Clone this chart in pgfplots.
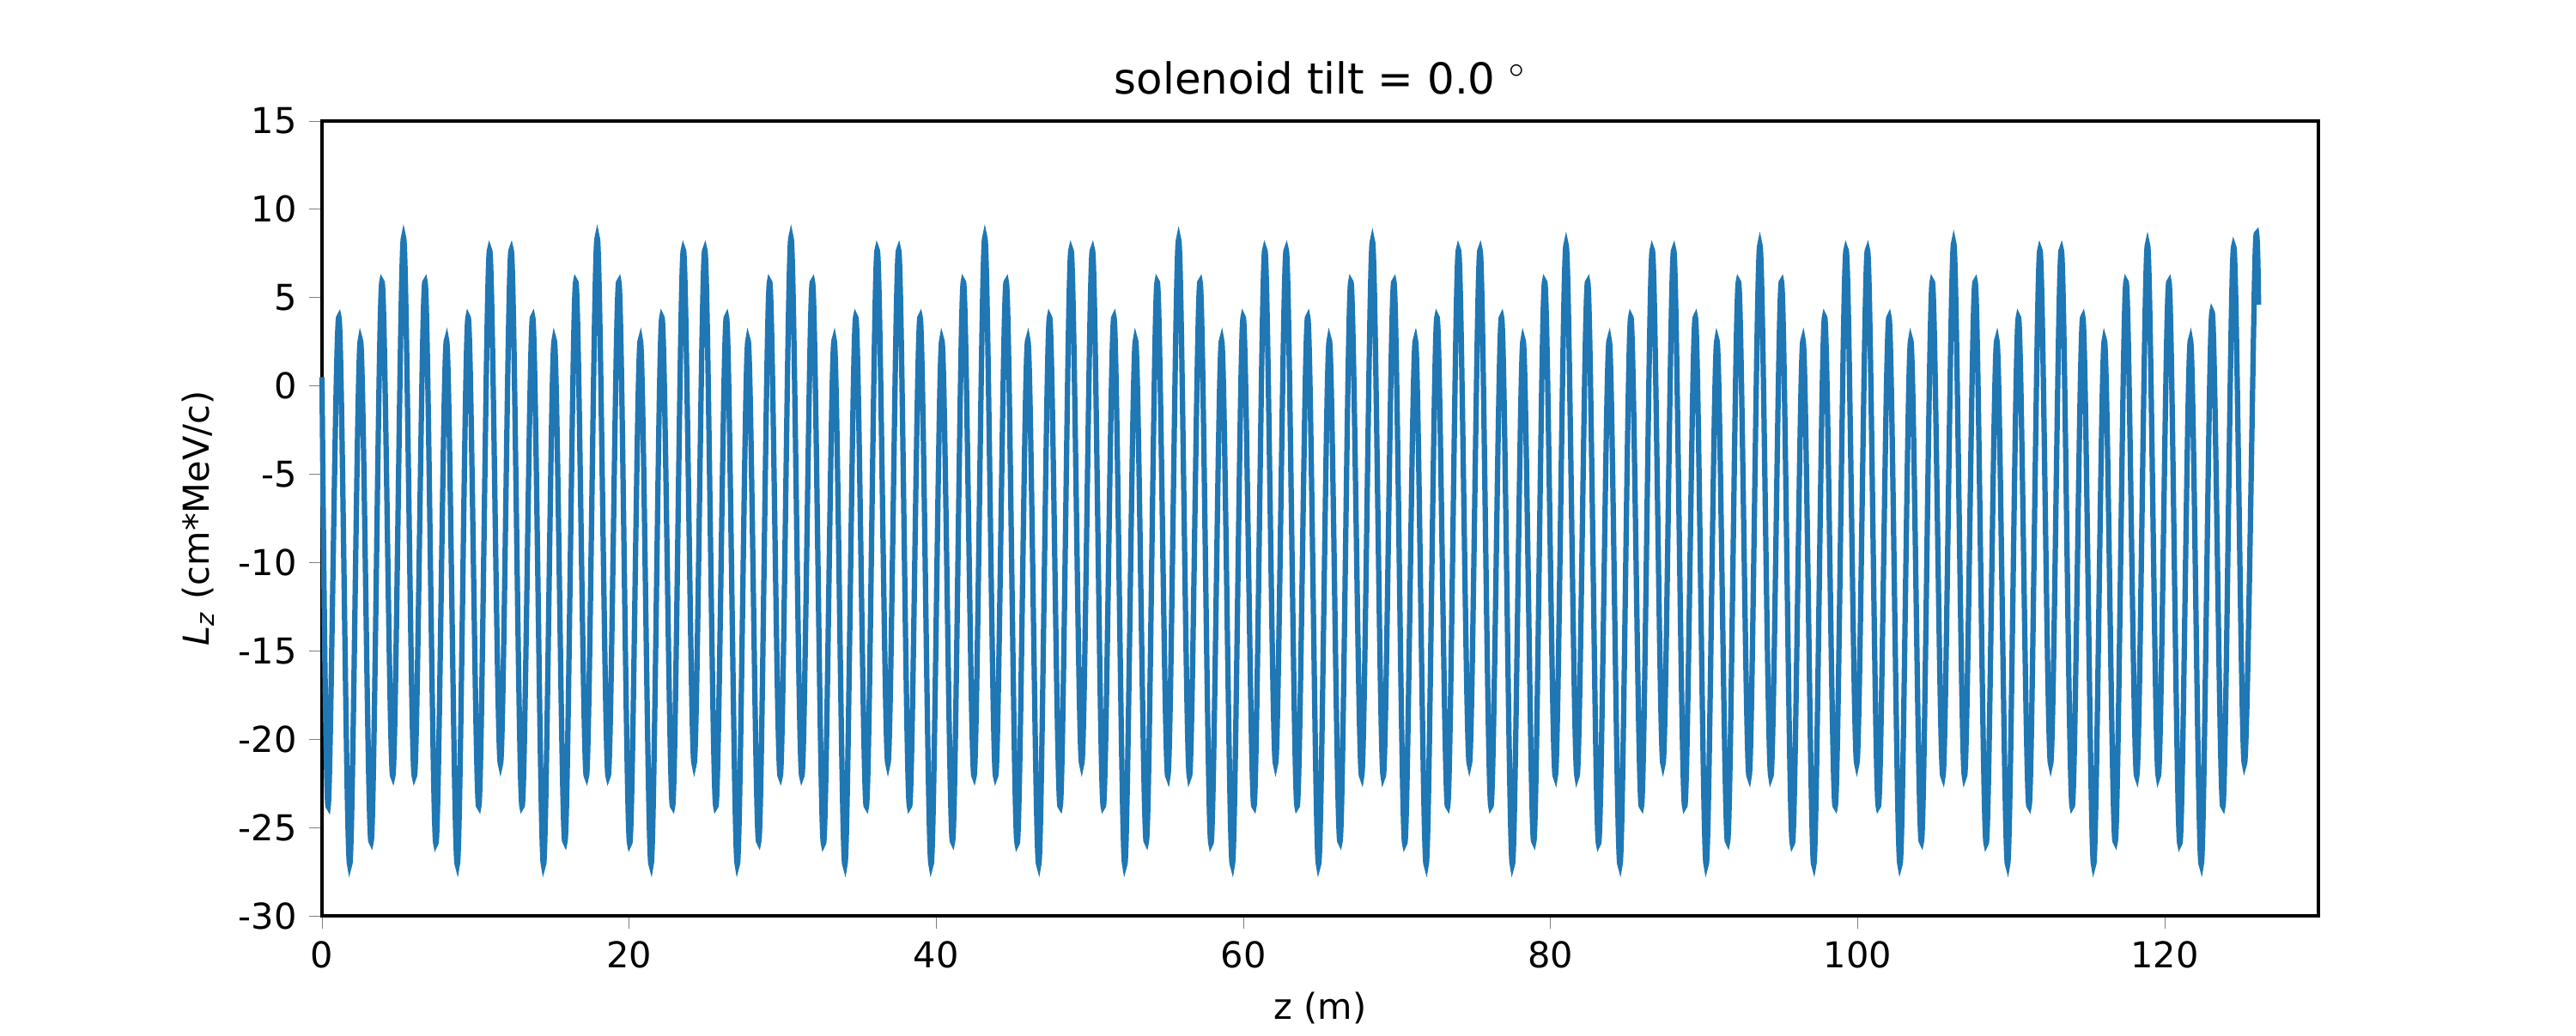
\documentclass[border=0pt]{standalone}
\usepackage{pgfplots}
\pgfplotsset{compat=1.18}
\usepackage{fontspec}
\setmainfont{DejaVu Sans}
\usetikzlibrary{calc}
\definecolor{mplblue}{HTML}{1F77B4}
\begin{document}
\begin{tikzpicture}
\begin{axis}[
  scale only axis, width=7.75in, height=3.087in,
  xmin=0, xmax=130, ymin=-30, ymax=15,
  xtick={0,20,...,120}, ytick={-30,-25,...,15},
  tick align=outside, major tick length=3.5pt,
  xtick pos=bottom, ytick pos=left,
  /pgf/number format/assume math mode=true,
  tick label style={font=\fontsize{10}{12}\selectfont},
  label style={font=\fontsize{10}{12}\selectfont},
  title style={font=\fontsize{12}{14}\selectfont, yshift=-2pt},
  title={solenoid tilt = 0.0 $^\circ$},
  xlabel={z (m)}, ylabel={\textit{L}\textsubscript{\textit{z}} (cm*MeV/c)},
  axis line style={line width=0.8pt},
  clip=false,
]
\addplot[mplblue, line width=1.5pt, smooth, tension=0.55] table {
0 0.5
0.40 -23.8
1.10 3.9
1.80 -27.1
2.50 2.6
3.20 -25.8
3.90 5.9
4.61 -22.1
5.31 8.4
6.01 -22.1
6.71 5.9
7.41 -25.9
8.11 2.6
8.81 -27.1
9.51 3.9
10.21 -23.8
10.91 7.7
11.62 -21.4
12.32 7.7
13.02 -23.8
13.72 3.9
14.42 -27.1
15.12 2.6
15.82 -25.8
16.52 5.9
17.22 -22.1
17.92 8.4
18.63 -22.1
19.33 5.9
20.03 -25.9
20.73 2.6
21.43 -27.1
22.13 3.9
22.83 -23.8
23.53 7.7
24.23 -21.4
24.93 7.7
25.64 -23.8
26.34 3.9
27.04 -27.1
27.74 2.6
28.44 -25.8
29.14 5.9
29.84 -22.1
30.54 8.4
31.24 -22.1
31.94 5.9
32.65 -25.9
33.35 2.6
34.05 -27.1
34.75 3.9
35.45 -23.8
36.15 7.7
36.85 -21.4
37.55 7.7
38.25 -23.8
38.95 3.9
39.66 -27.1
40.36 2.6
41.06 -25.8
41.76 5.9
42.46 -22.1
43.16 8.4
43.86 -22.1
44.56 5.9
45.26 -25.9
45.96 2.6
46.67 -27.1
47.37 3.9
48.07 -23.8
48.77 7.7
49.47 -21.4
50.17 7.7
50.87 -23.8
51.57 3.9
52.27 -27.1
52.97 2.6
53.68 -25.8
54.38 5.9
55.08 -22.1
55.78 8.3
56.48 -22.1
57.18 5.9
57.88 -25.9
58.58 2.6
59.28 -27.1
59.98 3.9
60.69 -23.8
61.39 7.7
62.09 -21.4
62.79 7.7
63.49 -23.8
64.19 3.9
64.89 -27.1
65.59 2.6
66.29 -25.8
66.99 5.9
67.70 -22.1
68.40 8.2
69.10 -22.1
69.80 5.9
70.50 -25.9
71.20 2.6
71.90 -27.1
72.60 3.9
73.30 -23.8
74.00 7.7
74.71 -21.4
75.41 7.7
76.11 -23.8
76.81 3.9
77.51 -27.1
78.21 2.6
78.91 -25.8
79.61 5.9
80.31 -22.1
81.01 8.0
81.72 -22.1
82.42 5.9
83.12 -25.9
83.82 2.6
84.52 -27.1
85.22 3.9
85.92 -23.8
86.62 7.7
87.32 -21.4
88.02 7.7
88.73 -23.8
89.43 3.9
90.13 -27.1
90.83 2.6
91.53 -25.8
92.23 5.9
92.93 -22.1
93.63 8.0
94.34 -22.1
95.04 5.9
95.74 -25.9
96.44 2.6
97.14 -27.1
97.84 3.9
98.54 -23.8
99.24 7.7
99.94 -21.4
100.64 7.7
101.34 -23.8
102.04 3.9
102.75 -27.1
103.45 2.6
104.15 -25.8
104.85 5.9
105.55 -22.1
106.25 8.1
106.95 -22.1
107.65 5.9
108.36 -25.9
109.06 2.6
109.76 -27.1
110.46 3.9
111.16 -23.8
111.86 7.7
112.56 -21.4
113.26 7.7
113.96 -23.8
114.66 3.9
115.36 -27.1
116.06 2.6
116.77 -25.8
117.47 5.9
118.17 -22.1
118.87 8.0
119.57 -22.1
120.27 5.9
120.97 -25.9
121.67 2.6
122.37 -27.1
123.07 4.2
123.78 -23.8
124.48 7.9
125.18 -21.4
125.88 7.4
126.1 4.6
};
\coordinate (sw) at (rel axis cs:0,0);
\coordinate (ne) at (rel axis cs:1,1);
\end{axis}
\path ($(sw)+(-1.25in,-0.443in)$) rectangle ($(ne)+(1in,0.47in)$);
\end{tikzpicture}
\end{document}
